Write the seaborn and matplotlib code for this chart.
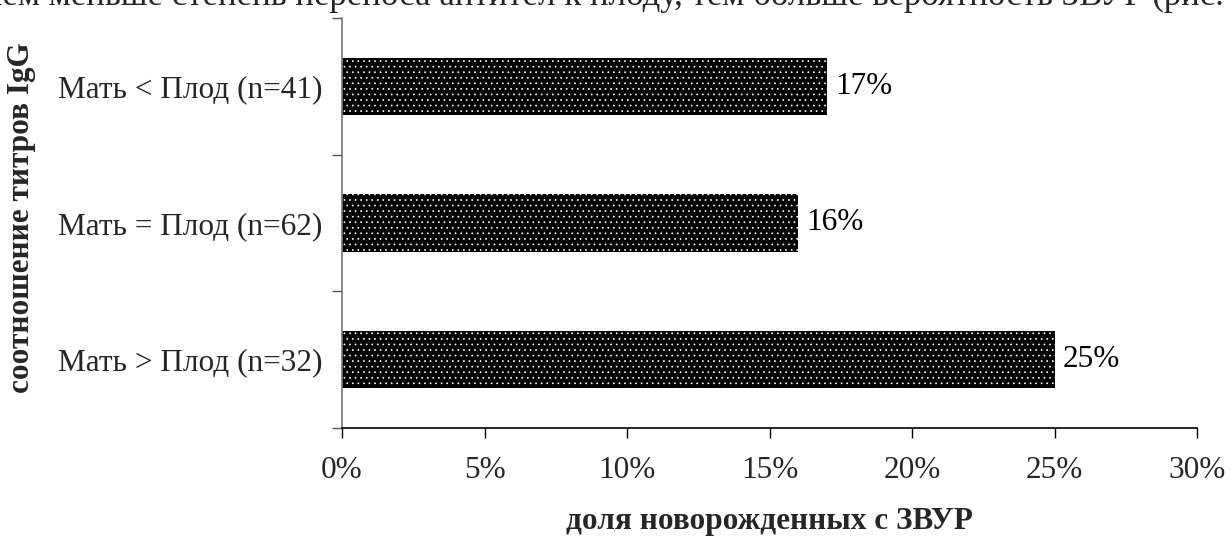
import matplotlib
matplotlib.use("Agg")
import matplotlib.pyplot as plt
import seaborn as sns
import pandas as pd
from matplotlib.ticker import FuncFormatter

categories = ["Мать < Плод (n=41)", "Мать = Плод (n=62)", "Мать > Плод (n=32)"]
values = [17, 16, 25]
value_labels = ["17%", "16%", "25%"]
x_ticks = [0, 5, 10, 15, 20, 25, 30]
x_label = "доля новорожденных с ЗВУР"
y_label = "соотношение титров IgG"
caption = "чем меньше степень переноса антител к плоду, тем больше вероятность ЗВУР (рис."

sns.set_style("ticks")
plt.rcParams["font.family"] = ["Liberation Serif", "DejaVu Serif"]
plt.rcParams["hatch.linewidth"] = 0.5
plt.rcParams["hatch.color"] = "white"

FS = 22.5

df = pd.DataFrame({"cat": categories, "val": values})

fig = plt.figure(figsize=(12.31, 5.5), dpi=100)
ax = fig.add_axes([342 / 1231, 1 - 428 / 550, (1197 - 342) / 1231, (428 - 18) / 550])

sns.barplot(data=df, x="val", y="cat", orient="h", color="black",
            width=0.42, ax=ax, saturation=1)

for p in ax.patches:
    p.set_facecolor("black")
    p.set_edgecolor("white")
    p.set_linewidth(0)
    p.set_hatch("...")

for p, lab in zip(ax.patches, value_labels):
    ax.annotate(lab, (p.get_width(), p.get_y() + p.get_height() / 2),
                xytext=(6, 0), textcoords="offset points",
                va="center", ha="left", fontsize=FS, color="black")

ax.set_xlim(0, 30)
ax.set_xticks(x_ticks)
ax.xaxis.set_major_formatter(FuncFormatter(lambda v, pos: f"{int(v)}%"))
ax.set_ylim(2.5, -0.5)
ax.set_yticks([-0.5, 0.5, 1.5, 2.5], minor=False)
ax.set_yticklabels([])
ax.set_yticks([0, 1, 2], minor=True)
ax.set_yticklabels(categories, minor=True, fontsize=FS)
ax.tick_params(axis="y", which="minor", length=0, pad=14)
ax.tick_params(axis="y", which="major", length=7, width=1, direction="out", color="#555555")
ax.tick_params(axis="x", length=7, width=1, direction="out", pad=13, labelsize=FS, color="black")

for s in ["top", "right"]:
    ax.spines[s].set_visible(False)
ax.spines["left"].set_color("#777777")
ax.spines["left"].set_linewidth(1.2)
ax.spines["bottom"].set_color("black")
ax.spines["bottom"].set_linewidth(1.2)

ax.set_xlabel(x_label, fontsize=FS, fontweight="bold")
ax.set_ylabel(y_label, fontsize=FS, fontweight="bold")
ax.yaxis.set_label_coords(-(342 - 22) / 855, (428 - 218) / 410)
ax.xaxis.set_label_coords(0.5, -(522 - 428) / 410)
ax.xaxis.label.set_va("center")
ax.yaxis.label.set_va("center")

fig.text(-15 / 1231, 1 - 5 / 550, caption, fontsize=25, va="baseline", ha="left")

fig.savefig("out.png", dpi=100)
